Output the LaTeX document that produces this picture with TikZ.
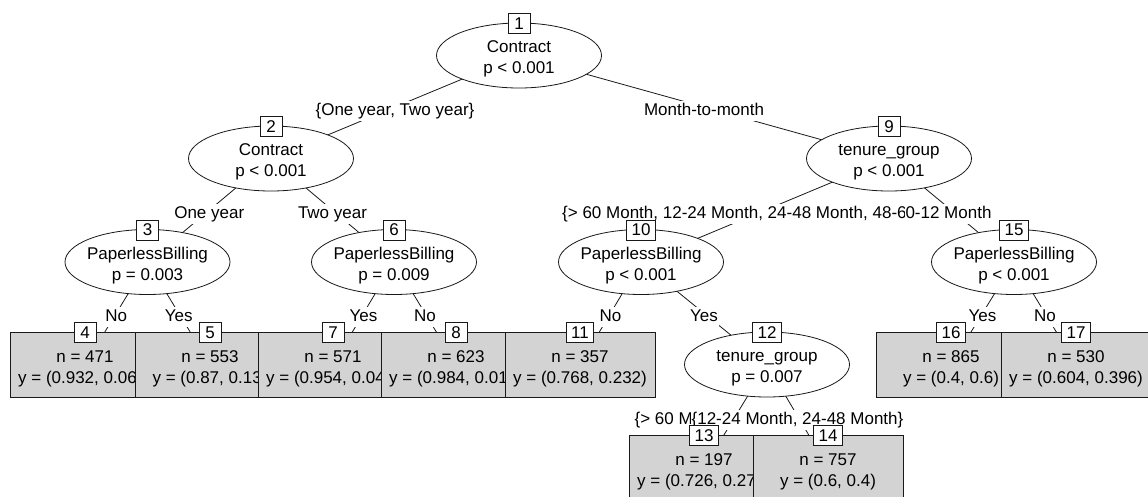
\documentclass[tikz,border=0pt]{standalone}
\usepackage{fontspec}
\setmainfont{Liberation Sans}
\usetikzlibrary{shapes.geometric}
\pgfdeclarelayer{edgelayer}
\pgfsetlayers{edgelayer,main}
\definecolor{leafgray}{RGB}{211,211,211}
\definecolor{inkline}{RGB}{25,25,25}

\begin{document}
\begin{tikzpicture}[x=1pt,y=-1pt,
  every node/.style={font=\fontsize{17}{21}\selectfont},
  splitnode/.style={ellipse, draw=inkline, line width=0.8pt, fill=white,
    minimum width=165pt, minimum height=65pt, inner sep=0pt},
  splittext/.style={align=center, inner sep=0pt, yshift=-3.6pt},
  leafnode/.style={rectangle, draw=inkline, line width=0.8pt, fill=leafgray,
    minimum width=150pt, minimum height=65pt, inner sep=0pt},
  leaftext/.style={align=center, inner sep=0pt, yshift=-4.7pt},
  idbox/.style={rectangle, draw=inkline, line width=0.8pt, fill=white,
    minimum width=22pt, minimum height=20pt, inner xsep=5pt, inner ysep=0pt,
    yshift=-1pt},
  elabel/.style={fill=white, inner xsep=1pt, inner ysep=2pt,
    text height=12pt, text depth=4pt, yshift=-4pt},
  branch/.style={draw=inkline, line width=0.8pt}]

\useasboundingbox (0,0) rectangle (1148,496);

% inner (split) nodes
\node[splitnode] (n1) at (519,55.5) {};
\node[splittext] (n1t) at (n1.center) {Contract\\p < 0.001};
\node[idbox] (n1id) at (n1.north) {1};

\node[splitnode] (n2) at (271,158.5) {};
\node[splittext] (n2t) at (n2.center) {Contract\\p < 0.001};
\node[idbox] (n2id) at (n2.north) {2};

\node[splitnode] (n9) at (889,158.5) {};
\node[splittext] (n9t) at (n9.center) {tenure\_group\\p < 0.001};
\node[idbox] (n9id) at (n9.north) {9};

\node[splitnode] (n3) at (147.5,262) {};
\node[splittext] (n3t) at (n3.center) {PaperlessBilling\\p = 0.003};
\node[idbox] (n3id) at (n3.north) {3};

\node[splitnode] (n6) at (394,262) {};
\node[splittext] (n6t) at (n6.center) {PaperlessBilling\\p = 0.009};
\node[idbox] (n6id) at (n6.north) {6};

\node[splitnode] (n10) at (641,262) {};
\node[splittext] (n10t) at (n10.center) {PaperlessBilling\\p < 0.001};
\node[idbox] (n10id) at (n10.north) {10};

\node[splitnode] (n15) at (1014,262) {};
\node[splittext] (n15t) at (n15.center) {PaperlessBilling\\p < 0.001};
\node[idbox] (n15id) at (n15.north) {15};

\node[splitnode] (n12) at (767,364.5) {};
\node[splittext] (n12t) at (n12.center) {tenure\_group\\p = 0.007};
\node[idbox] (n12id) at (n12.north) {12};

% terminal nodes, drawn left to right so each panel overlaps its left neighbour
\node[leafnode] (n4) at (85,364.5) {};
\node[leaftext] (n4t) at (n4.center) {n = 471\\y = (0.932, 0.06\hphantom{8)}};
\node[idbox] (n4id) at (n4.north) {4};

\node[leafnode] (n5) at (210,364.5) {};
\node[leaftext] (n5t) at (n5.center) {n = 553\\y = (0.87, 0.13\hphantom{)}};
\node[idbox] (n5id) at (n5.north) {5};

\node[leafnode] (n7) at (333,364.5) {};
\node[leaftext] (n7t) at (n7.center) {n = 571\\y = (0.954, 0.04\hphantom{6)}};
\node[idbox] (n7id) at (n7.north) {7};

\node[leafnode] (n8) at (456,364.5) {};
\node[leaftext] (n8t) at (n8.center) {n = 623\\y = (0.984, 0.01\hphantom{6)}};
\node[idbox] (n8id) at (n8.north) {8};

\node[leafnode] (n11) at (580,364.5) {};
\node[leaftext] (n11t) at (n11.center) {n = 357\\y = (0.768, 0.232)};
\node[idbox] (n11id) at (n11.north) {11};

\node[leafnode] (n13) at (704,467.5) {};
\node[leaftext] (n13t) at (n13.center) {n = 197\\y = (0.726, 0.27\hphantom{4)}};
\node[idbox] (n13id) at (n13.north) {13};

\node[leafnode] (n14) at (828,467.5) {};
\node[leaftext] (n14t) at (n14.center) {n = 757\\y = (0.6, 0.4)};
\node[idbox] (n14id) at (n14.north) {14};

\node[leafnode] (n16) at (951,364.5) {};
\node[leaftext] (n16t) at (n16.center) {n = 865\\y = (0.4, 0.6)};
\node[idbox] (n16id) at (n16.north) {16};

\node[leafnode] (n17) at (1076,364.5) {};
\node[leaftext] (n17t) at (n17.center) {n = 530\\y = (0.604, 0.396)};
\node[idbox] (n17id) at (n17.north) {17};

% branches with their split labels, behind the nodes
\begin{pgfonlayer}{edgelayer}
  \fill[white] (0,0) rectangle (1148,496);
  \draw[branch] (n1.center) -- node[elabel] (e12) {\{One year, Two year\}} (n2.center);
  \draw[branch] (n1.center) -- node[elabel] (e19) {Month-to-month} (n9.center);
  \draw[branch] (n2.center) -- node[elabel] (e23) {One year} (n3.center);
  \draw[branch] (n2.center) -- node[elabel] (e26) {Two year} (n6.center);
  \draw[branch] (n9.center) -- node[elabel, xshift=3pt] (e910)
    {\{> 60 Month, 12-24 Month, 24-48 Month, 48-6\hphantom{0 Month\}}} (n10.center);
  \draw[branch] (n9.center) -- node[elabel, xshift=-3pt] (e915) {0-12 Month} (n15.center);
  \draw[branch] (n3.center) -- node[elabel] (e34) {No} (n4.center);
  \draw[branch] (n3.center) -- node[elabel] (e35) {Yes} (n5.center);
  \draw[branch] (n6.center) -- node[elabel] (e67) {Yes} (n7.center);
  \draw[branch] (n6.center) -- node[elabel] (e68) {No} (n8.center);
  \draw[branch] (n10.center) -- node[elabel] (e1011) {No} (n11.center);
  \draw[branch] (n10.center) -- node[elabel] (e1012) {Yes} (n12.center);
  \draw[branch] (n12.center) -- node[elabel] (e1213)
    {\{> 60 M\hphantom{onth, 48-60 Month\}}} (n13.center);
  \draw[branch] (n12.center) -- node[elabel] (e1214) {\{12-24 Month, 24-48 Month\}} (n14.center);
  \draw[branch] (n15.center) -- node[elabel] (e1516) {Yes} (n16.center);
  \draw[branch] (n15.center) -- node[elabel] (e1517) {No} (n17.center);
\end{pgfonlayer}
\end{tikzpicture}
\end{document}
